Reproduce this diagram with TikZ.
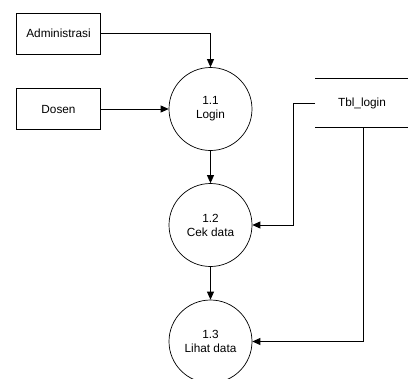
\documentclass[tikz,border=0pt]{standalone}
\usepackage{fontspec}
\setmainfont{Liberation Sans}
\usetikzlibrary{arrows.meta}
\begin{document}
\begin{tikzpicture}[x=1bp,y=-1bp,
  every node/.style={font=\fontsize{11.8bp}{14bp}\selectfont, inner sep=0pt},
  entity/.style={draw, line width=0.7bp, minimum width=84bp, minimum height=41bp},
  proc/.style={draw, circle, line width=0.7bp, minimum size=83bp, align=center},
  flow/.style={draw, line width=0.8bp, -{Triangle[length=8bp,width=7bp]}},
  store/.style={line width=0.8bp}]
\useasboundingbox (0,0) rectangle (408,379);
\node[entity] (adm) at (58.5,33.5) {Administrasi};
\node[entity] (dos) at (58.5,109) {Dosen};
\node[proc] (p1) at (210.5,109) {1.1\\Login};
\node[proc] (p2) at (210.5,225) {1.2\\Cek data};
\node[proc] (p3) at (210.5,341.5) {1.3\\Lihat data};
\node (tbl) at (362,103) {Tbl\_login};
\coordinate (tt1) at (315,78);
\coordinate (tt2) at (408,78);
\coordinate (tb1) at (315,127);
\coordinate (tb2) at (408,127);
\coordinate (tl) at (315,103);
\coordinate (tr) at (363,127);
\draw[store] (tt1) -- (tt2);
\draw[store] (tb1) -- (tb2);
\draw[flow] (adm.east) -| (p1.north);
\draw[flow] (dos.east) -- (p1.west);
\draw[flow] (p1.south) -- (p2.north);
\draw[flow] (p2.south) -- (p3.north);
\draw[flow] (tl) -- (293,103) |- (p2.east);
\draw[flow] (tr) |- (p3.east);
\end{tikzpicture}
\end{document}
